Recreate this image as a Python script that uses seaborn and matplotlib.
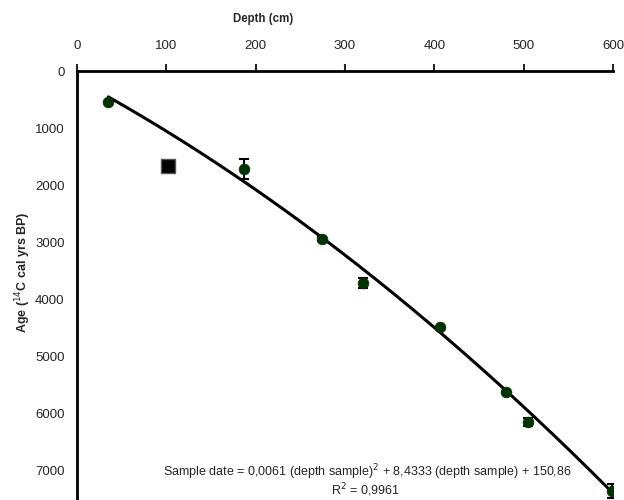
import numpy as np
import pandas as pd
import seaborn as sns
import matplotlib.pyplot as plt

# radiocarbon dated samples (depth in cm, age in cal yrs BP)
depth = [35, 187, 274, 320, 406, 480, 505, 599]
age = [540, 1720, 2947, 3720, 4490, 5632, 6158, 7370]
age_err = [0, 175, 30, 90, 0, 0, 70, 120]

# rejected date
outlier_depth = [102]
outlier_age = [1667]

# polynomial trend coefficients as given on the chart
a2, a1, a0 = 0.0061, 8.4333, 150.86
r2 = 0.9961

sns.set_style("white")
plt.rcParams['font.family'] = ['Liberation Sans', 'DejaVu Sans']

fig = plt.figure(figsize=(6.24, 5.0), dpi=100)
ax = fig.add_axes([0.1234, 0.0, 0.859, 0.858])

# trend line
fit_x = np.linspace(min(depth), 600, 200)
fit_df = pd.DataFrame({"depth": fit_x, "age": a2 * fit_x**2 + a1 * fit_x + a0})
sns.lineplot(data=fit_df, x="depth", y="age", color="black", linewidth=2.2, ax=ax, zorder=2)

# error bars and points
ax.errorbar(depth, age, yerr=age_err, fmt="none", ecolor="black", elinewidth=1.5,
            capsize=3.5, capthick=1.5, zorder=3)
pts = pd.DataFrame({"depth": depth, "age": age})
sns.scatterplot(data=pts, x="depth", y="age", color="#003300", s=60, edgecolor="#003300",
                linewidth=0.5, ax=ax, zorder=4)
out = pd.DataFrame({"depth": outlier_depth, "age": outlier_age})
sns.scatterplot(data=out, x="depth", y="age", color="black", marker="s", s=115,
                edgecolor="#555555", linewidth=1, ax=ax, zorder=4)

ax.set_xlim(0, 600)
ax.set_ylim(7526, 0)
ax.set_xticks(range(0, 601, 100))
ax.set_yticks(range(0, 7001, 1000))

ax.xaxis.tick_top()
ax.xaxis.set_label_position("top")
for side in ["right", "bottom"]:
    ax.spines[side].set_visible(False)
for side in ["left", "top"]:
    ax.spines[side].set_linewidth(2)
    ax.spines[side].set_color("black")
ax.tick_params(axis="x", direction="out", length=5, width=1.5, pad=9, labelsize=9.5)
ax.tick_params(axis="y", direction="out", length=5, width=1.5, pad=4, labelsize=9.5)

ax.set_xlabel("Depth (cm)", fontsize=8.3, fontweight="bold")
ax.set_ylabel("Age ($^{14}$C cal yrs BP)", fontsize=9, fontweight="bold")
ax.xaxis.set_label_coords(0.347, 1.115)
ax.yaxis.set_label_coords(-0.082, 0.53)

ax.text(325, 7035, "Sample date = 0,0061 (depth sample)$^2$ + 8,4333 (depth sample) + 150,86",
        ha="center", va="center", fontsize=9)
ax.text(323, 7350, "R$^2$ = " + f"{r2}".replace(".", ","), ha="center", va="center", fontsize=9)

fig.savefig("out.png", dpi=100)
